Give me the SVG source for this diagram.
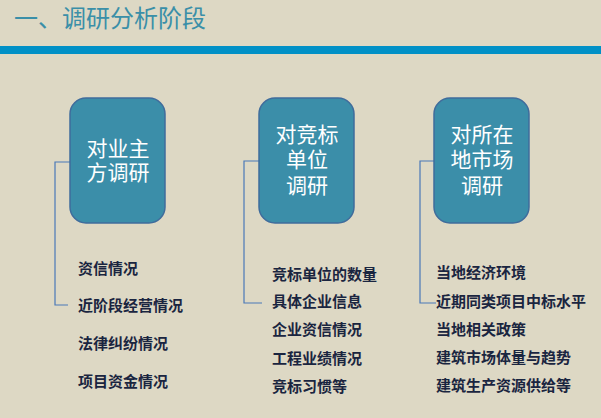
<svg xmlns="http://www.w3.org/2000/svg" width="601" height="418" viewBox="0 0 601 418">
<style>
.box{fill:#3B8EA9;stroke:#3F6C9C;stroke-width:1.5}
.bt{fill:#fff;font-family:"Liberation Serif","Noto Sans CJK SC",serif;font-size:21px;text-anchor:middle;dominant-baseline:central}
.it{fill:#1A2540;font-family:"Noto Sans CJK SC",sans-serif;font-size:15px;font-weight:bold;dominant-baseline:central}
.ln{fill:none;stroke:#4A78B8;stroke-width:1.2}
</style>
<rect width="601" height="418" fill="#DDD8C4"/>
<rect x="0" y="46" width="601" height="8" fill="#0090C6"/>
<text x="14" y="16" font-family="Noto Sans CJK SC,sans-serif" font-size="24" fill="#3A8FA8" dominant-baseline="central">一、调研分析阶段</text>
<g id="connectors">
<path class="ln" d="M70 162H55V305H68"/>
<path class="ln" d="M259 161H244V303H262"/>
<path class="ln" d="M434 161H420V303H436"/>
</g>
<g id="n1"><rect class="box" x="70" y="98" width="95" height="125" rx="16"/>
<text class="bt" x="118" y="149">对业主</text><text class="bt" x="118" y="173">方调研</text></g>
<g id="n2"><rect class="box" x="259" y="98" width="95" height="125" rx="16"/>
<text class="bt" x="307" y="135">对竞标</text><text class="bt" x="307" y="160">单位</text><text class="bt" x="307" y="186">调研</text></g>
<g id="n3"><rect class="box" x="434" y="98" width="95" height="125" rx="16"/>
<text class="bt" x="482" y="135">对所在</text><text class="bt" x="482" y="160">地市场</text><text class="bt" x="482" y="186">调研</text></g>
<g id="items1">
<text class="it" x="78" y="267">资信情况</text><text class="it" x="78" y="304">近阶段经营情况</text><text class="it" x="78" y="342">法律纠纷情况</text><text class="it" x="78" y="380">项目资金情况</text></g>
<g id="items2">
<text class="it" x="272" y="273">竞标单位的数量</text><text class="it" x="272" y="300">具体企业信息</text><text class="it" x="272" y="328">企业资信情况</text><text class="it" x="272" y="357">工程业绩情况</text><text class="it" x="272" y="385">竞标习惯等</text></g>
<g id="items3">
<text class="it" x="436" y="271">当地经济环境</text><text class="it" x="436" y="300">近期同类项目中标水平</text><text class="it" x="436" y="328">当地相关政策</text><text class="it" x="436" y="356">建筑市场体量与趋势</text><text class="it" x="436" y="384">建筑生产资源供给等</text></g>
</svg>
